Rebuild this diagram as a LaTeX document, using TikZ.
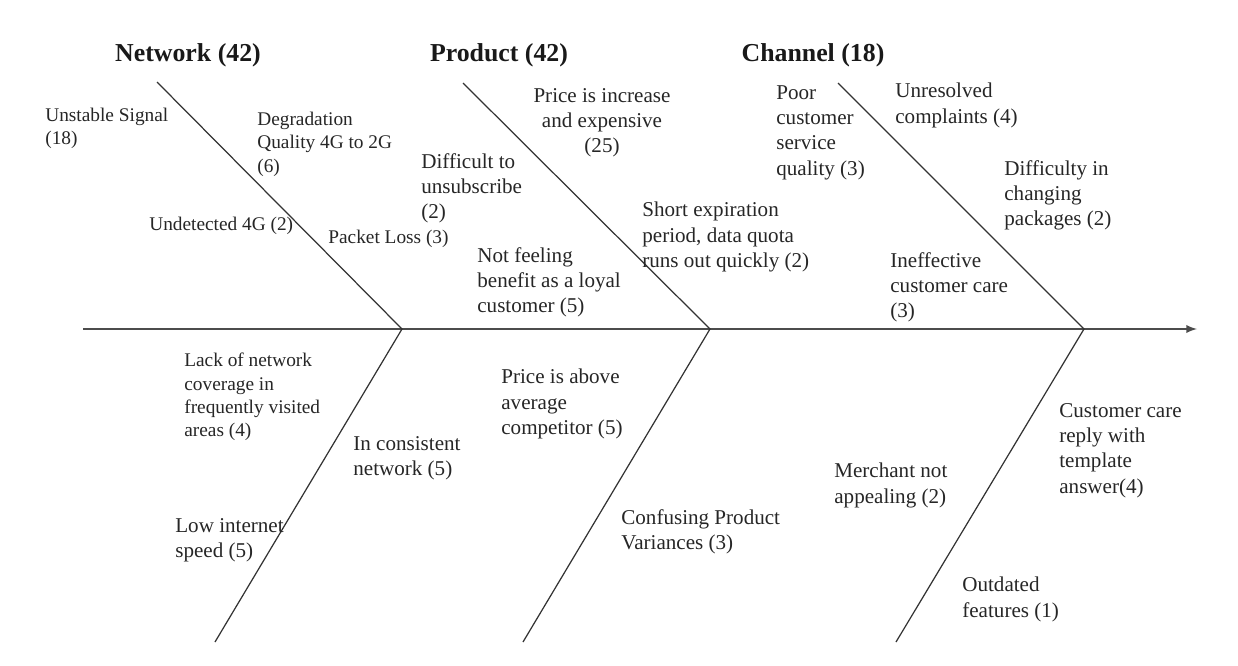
\documentclass[tikz,border=0pt]{standalone}
\usepackage{fontspec}
\setmainfont{Liberation Serif}
\usetikzlibrary{arrows}

\begin{document}
\begin{tikzpicture}[x=0.02cm, y=-0.02cm,
  head/.style={font=\fontsize{14.7}{17}\selectfont\bfseries, inner sep=0pt, text=black!90},
  cause/.style={font=\fontsize{12}{14.4}\selectfont, align=left, anchor=north west, inner sep=0pt, text=black!85},
  smallcause/.style={cause, font=\fontsize{11}{13.2}\selectfont},
  bone/.style={draw=black!80, line width=0.7pt},
  spine/.style={draw=black!70, line width=1.1pt}]
  \useasboundingbox (0,0) rectangle (1238,666);
  % head and bones
  \coordinate (start) at (83,329);
  \coordinate (end) at (1197,329);
  \coordinate (j1) at (402,329);
  \coordinate (j2) at (710,329);
  \coordinate (j3) at (1084,329);
  \coordinate (nettop) at (157,82);
  \coordinate (prodtop) at (463,83);
  \coordinate (chantop) at (838,83);
  \coordinate (netbot) at (215,642);
  \coordinate (prodbot) at (523,642);
  \coordinate (chanbot) at (896,642);
  \draw[spine,-latex] (start) -- (end);
  \draw[bone] (nettop) -- (j1) -- (netbot);
  \draw[bone] (prodtop) -- (j2) -- (prodbot);
  \draw[bone] (chantop) -- (j3) -- (chanbot);
  \node[head] (network) at (188,55) {Network (42)};
  \node[head] (product) at (499,55) {Product (42)};
  \node[head] (channel) at (813,55) {Channel (18)};
  % network
  \node[smallcause] (unstable) at (45,108) {Unstable Signal\\(18)};
  \node[smallcause] (degrad) at (257,112) {Degradation\\Quality 4G to 2G\\(6)};
  \node[smallcause] (undet) at (149,217) {Undetected 4G (2)};
  \node[smallcause] (packet) at (328,230) {Packet Loss (3)};
  \node[smallcause] (lack) at (184,353) {Lack of network\\coverage in\\frequently visited\\areas (4)};
  \node[cause] (incons) at (353,436) {In consistent\\network (5)};
  \node[cause] (lowint) at (175,518) {Low internet\\speed (5)};
  % product
  \node[cause, align=center, anchor=north] (priceinc) at (602,88) {Price is increase\\and expensive\\(25)};
  \node[cause] (unsub) at (421,153) {Difficult to\\unsubscribe\\(2)};
  \node[cause] (loyal) at (477,247) {Not feeling\\benefit as a loyal\\customer (5)};
  \node[cause] (expire) at (642,202) {Short expiration\\period, data quota\\runs out quickly (2)};
  \node[cause] (priceab) at (501,369) {Price is above\\average\\competitor (5)};
  \node[cause] (confus) at (621,509) {Confusing Product\\Variances (3)};
  % channel
  \node[cause] (poor) at (776,85) {Poor\\customer\\service\\quality (3)};
  \node[cause] (unres) at (895,83) {Unresolved\\complaints (4)};
  \node[cause] (changing) at (1004,160) {Difficulty in\\changing\\packages (2)};
  \node[cause] (ineff) at (890,252) {Ineffective\\customer care\\(3)};
  \node[cause] (merchant) at (834,463) {Merchant not\\appealing (2)};
  \node[cause] (template) at (1059,403) {Customer care\\reply with\\template\\answer(4)};
  \node[cause] (outdated) at (962,577) {Outdated\\features (1)};
\end{tikzpicture}
\end{document}
